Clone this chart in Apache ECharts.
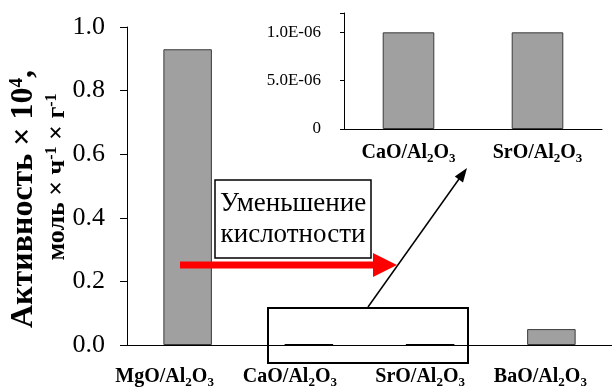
<!DOCTYPE html>
<html>
<head>
<meta charset="utf-8">
<script src="https://cdn.jsdelivr.net/npm/echarts@6/dist/echarts.min.js"></script>
<style>
html, body { margin: 0; padding: 0; background: #fff; }
#chart { width: 612px; height: 388px; }
</style>
</head>
<body>
<div id="chart"></div>
<script>
// Catalyst activity, ×10^4 mol·h^-1·g^-1
const catalysts = ['MgO/Al2O3', 'CaO/Al2O3', 'SrO/Al2O3', 'BaO/Al2O3'];
const activity = [0.93, 1.0e-6, 1.0e-6, 0.05];
const mainTicks = ['0.0', '0.2', '0.4', '0.6', '0.8', '1.0'];

// Zoomed-in view of the two weakest catalysts
const insetCatalysts = ['CaO/Al2O3', 'SrO/Al2O3'];
const insetActivity = [1.0e-6, 1.0e-6];
const insetTicks = ['0', '5.0E-06', '1.0E-06'];

// Extra right padding (px) nudging each category label to the left
const labelNudge = [46, 38, 20, 22];

const SERIF = '"Liberation Serif", "Times New Roman", serif';
const BAR_FILL = '#a0a0a0';
const BAR_EDGE = '#3a3a3a';

// Turns "Al2O3" into rich-text tokens with subscript digits;
// the last token can carry an end style that adds right padding
function formula(name, endStyle) {
  const parts = name.split(/(\d)/).filter(Boolean);
  return parts.map((p, k) => {
    let style = /^\d$/.test(p) ? 's' : 'b';
    if (endStyle && k === parts.length - 1) style = endStyle;
    return '{' + style + '|' + p + '}';
  }).join('');
}

const baseFont = { fontFamily: SERIF, fontWeight: 'bold', fontSize: 20, color: '#000', lineHeight: 20, verticalAlign: 'top' };
const subFont = { fontFamily: SERIF, fontWeight: 'bold', fontSize: 13, color: '#000', lineHeight: 13, verticalAlign: 'top', padding: [9, 0, 0, 0] };

const mainRich = { b: baseFont, s: subFont };
labelNudge.forEach((w, i) => {
  mainRich['e' + i] = Object.assign({}, subFont, { padding: [9, w, 0, 0] });
});
const insetRich = { b: baseFont, s: subFont };

const black = { color: '#000', width: 1 };

const chart = echarts.init(document.getElementById('chart'), null, { renderer: 'canvas' });

chart.setOption({
  animation: false,
  backgroundColor: '#fff',
  grid: [
    { left: 127, right: 0, top: 27, bottom: 43, outerBoundsMode: 'none' },
    { left: 344, right: 10, top: 13, bottom: 259, outerBoundsMode: 'none' }
  ],
  xAxis: [
    {
      gridIndex: 0, type: 'category', data: catalysts,
      axisLine: { lineStyle: black },
      axisTick: { length: 7, lineStyle: black },
      axisLabel: { formatter: (v, i) => formula(v, 'e' + i), rich: mainRich, margin: 22, interval: 0 }
    },
    {
      gridIndex: 1, type: 'category', data: insetCatalysts,
      axisLine: { lineStyle: black },
      axisTick: { length: 4, lineStyle: black },
      axisLabel: { formatter: v => formula(v), rich: insetRich, margin: 14, interval: 0 }
    }
  ],
  yAxis: [
    {
      gridIndex: 0, type: 'value', min: 0, max: 1, interval: 0.2,
      axisLine: { show: true, lineStyle: black },
      axisTick: { show: true, length: 7, lineStyle: black },
      splitLine: { show: false },
      axisLabel: {
        formatter: (v, i) => mainTicks[i],
        fontFamily: SERIF, fontSize: 26, color: '#000', margin: 22
      }
    },
    {
      gridIndex: 1, type: 'value', min: 0, max: 1.2e-6, interval: 0.5e-6,
      axisLine: { show: true, lineStyle: black },
      axisTick: { show: true, length: 4, lineStyle: black },
      splitLine: { show: false },
      axisLabel: {
        formatter: (v, i) => insetTicks[i],
        fontFamily: SERIF, fontSize: 17, color: '#000', margin: 23
      }
    }
  ],
  series: [
    {
      type: 'bar', xAxisIndex: 0, yAxisIndex: 0, barWidth: '40%',
      // near-zero bars show only as a dark outline on the baseline
      data: activity.map(v => v < 0.001
        ? { value: v, itemStyle: { borderColor: '#000', borderWidth: 2 } }
        : v),
      itemStyle: { color: BAR_FILL, borderColor: BAR_EDGE, borderWidth: 1 }
    },
    {
      type: 'bar', xAxisIndex: 1, yAxisIndex: 1, data: insetActivity, barWidth: '40%',
      itemStyle: { color: BAR_FILL, borderColor: BAR_EDGE, borderWidth: 1 }
    }
  ],
  graphic: [
    // Axis title, two rotated lines
    {
      type: 'text', x: 24, y: 199, rotation: Math.PI / 2, z: 10,
      style: {
        text: '{t|Активность × 10}{p|4}{t|,}',
        align: 'center', verticalAlign: 'middle',
        rich: {
          t: { fontFamily: SERIF, fontWeight: 'bold', fontSize: 32, lineHeight: 32, verticalAlign: 'top', color: '#000' },
          p: { fontFamily: SERIF, fontWeight: 'bold', fontSize: 19, lineHeight: 19, verticalAlign: 'top', color: '#000' }
        }
      }
    },
    {
      type: 'text', x: 57, y: 177, rotation: Math.PI / 2, z: 10,
      style: {
        text: '{t|моль × ч}{p|-1}{t| × г}{p|-1}',
        align: 'center', verticalAlign: 'middle',
        rich: {
          t: { fontFamily: SERIF, fontWeight: 'bold', fontSize: 26, lineHeight: 26, verticalAlign: 'top', color: '#000' },
          p: { fontFamily: SERIF, fontWeight: 'bold', fontSize: 16, lineHeight: 16, verticalAlign: 'top', color: '#000' }
        }
      }
    },
    // "Decreasing acidity" note
    {
      type: 'rect', z: 10,
      shape: { x: 215, y: 180, width: 156, height: 78 },
      style: { fill: '#fff', stroke: '#000', lineWidth: 1.5 }
    },
    {
      type: 'text', x: 293, y: 219, z: 11,
      style: {
        text: 'Уменьшение\nкислотности',
        fontFamily: SERIF, fontSize: 27, lineHeight: 31,
        align: 'center', verticalAlign: 'middle', fill: '#000'
      }
    },
    // Red trend arrow
    {
      type: 'polygon', z: 12,
      shape: { points: [[180, 261.5], [373, 261.5], [373, 253], [397, 265], [373, 277], [373, 268.5], [180, 268.5]] },
      style: { fill: '#ff0000' }
    },
    // Frame round the near-zero bars
    {
      type: 'rect', z: 10,
      shape: { x: 268, y: 308, width: 200, height: 55 },
      style: { fill: null, stroke: '#000', lineWidth: 2 }
    },
    // Pointer up to the zoomed view
    {
      type: 'line', z: 10,
      shape: { x1: 368, y1: 307, x2: 459, y2: 179 },
      style: { stroke: '#000', lineWidth: 1.5 }
    },
    {
      type: 'polygon', z: 10,
      shape: { points: [[467, 168], [463, 182.5], [454.8, 176.5]] },
      style: { fill: '#000' }
    }
  ]
});
</script>
</body>
</html>
